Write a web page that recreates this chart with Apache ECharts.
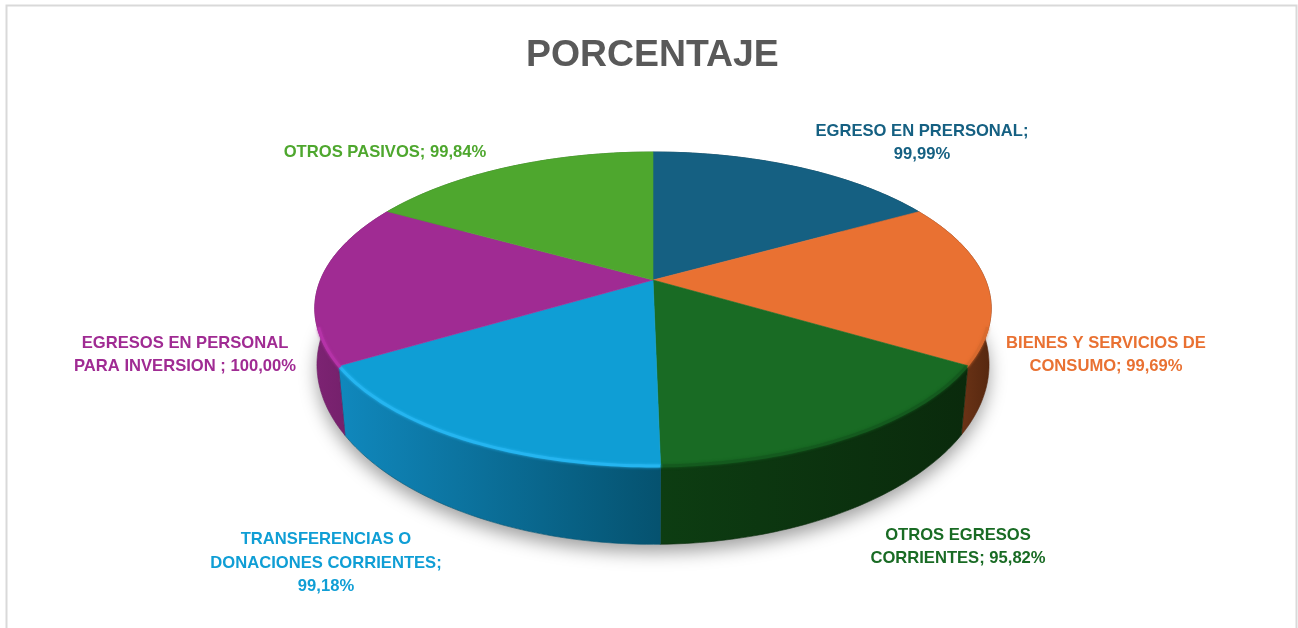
<!DOCTYPE html>
<html>
<head>
<meta charset="utf-8">
<title>PORCENTAJE</title>
<style>
  html, body { margin: 0; padding: 0; background: #fff; }
  #chart { width: 1298px; height: 628px; }
</style>
<script src="https://cdn.jsdelivr.net/npm/echarts@6/dist/echarts.min.js"></script>
</head>
<body>
<div id="chart"></div>
<script>
// datos
const categories = [
  'EGRESO EN PRERSONAL',
  'BIENES Y SERVICIOS DE CONSUMO',
  'OTROS EGRESOS CORRIENTES',
  'TRANSFERENCIAS O DONACIONES CORRIENTES',
  'EGRESOS EN PERSONAL PARA INVERSION ',
  'OTROS PASIVOS'
];
const values = [99.99, 99.69, 95.82, 99.18, 100.0, 99.84];
const labelTexts = [
  'EGRESO EN PRERSONAL;\n99,99%',
  'BIENES Y SERVICIOS DE\nCONSUMO; 99,69%',
  'OTROS EGRESOS\nCORRIENTES; 95,82%',
  'TRANSFERENCIAS O\nDONACIONES CORRIENTES;\n99,18%',
  'EGRESOS EN PERSONAL\nPARA INVERSION ; 100,00%',
  'OTROS PASIVOS; 99,84%'
];

// estilos
const topColors = ['#156082', '#E97132', '#196B24', '#0F9ED5', '#A02B93', '#4EA72E'];
const rimColors = ['#156082', '#D96A2E', '#145A1E', '#25B5F0', '#B533A8', '#4EA72E'];
const wallLeft = ['#0c3a4e', '#8a4420', '#0d3d12', '#1088bd', '#7d2373', '#2e6a1c'];
const wallRight = ['#0c3a4e', '#55270f', '#0a2a0c', '#05526f', '#6a1d62', '#2e6a1c'];
const labelCenters = [[922, 143], [1106, 355], [958, 547], [326, 563], [185, 355], [385, 152]];

// proyeccion de la torta en perspectiva
const cx = 653, cy = 280;
const radiusX = 332.6, radiusY = 151.3, persp = 0.182;
const depth = 60;
const total = values.reduce((a, b) => a + b, 0);

function angleAt(index) {
  let sum = 0;
  for (let i = 0; i < index; i++) sum += values[i];
  return sum / total * Math.PI * 2;
}
function topPoint(a) {
  const u = Math.sin(a), v = -Math.cos(a), d = 1 - persp * v;
  return [cx + radiusX * u / d, cy + radiusY * v / d];
}
function bottomPoint(a) {
  const v = -Math.cos(a), d = 1 - persp * v, p = topPoint(a);
  const shrink = 1 - 0.04 * Math.max(v, 0);
  return [cx + (p[0] - cx) * shrink, p[1] + depth / d + (v > 0 ? v * 6 : 0)];
}
function arc(fn, a0, a1) {
  const pts = [];
  const n = 60;
  for (let i = 0; i <= n; i++) pts.push(fn(a0 + (a1 - a0) * i / n));
  return pts;
}

function renderShadow(params, api) {
  return {
    type: 'polygon',
    shape: { points: arc(bottomPoint, 0, Math.PI * 2) },
    style: { fill: '#fff', shadowBlur: 18, shadowColor: 'rgba(0,0,0,0.38)', shadowOffsetY: 8 }
  };
}

function renderWall(params, api) {
  const i = params.dataIndex;
  const a0 = angleAt(i), a1 = angleAt(i + 1);
  const pts = arc(topPoint, a0, a1).concat(arc(bottomPoint, a0, a1).reverse());
  return {
    type: 'polygon',
    shape: { points: pts },
    style: {
      fill: new echarts.graphic.LinearGradient(0, 0, 1, 0, [
        { offset: 0, color: wallLeft[i] },
        { offset: 1, color: wallRight[i] }
      ]),
      stroke: wallRight[i],
      lineWidth: 0.6
    }
  };
}

function renderTop(params, api) {
  const i = params.dataIndex;
  const a0 = angleAt(i), a1 = angleAt(i + 1);
  const outer = arc(topPoint, a0, a1);
  // el brillo del borde solo se ve en la parte delantera
  const rim = outer
    .filter(p => p[1] > cy + 45)
    .map(p => [cx + (p[0] - cx) * 0.995, p[1] + 1]);
  const children = [
    {
      type: 'polygon',
      shape: { points: [[cx, cy]].concat(outer) },
      style: { fill: topColors[i], stroke: topColors[i], lineWidth: 0.6 }
    },
    {
      type: 'text',
      x: labelCenters[i][0],
      y: labelCenters[i][1],
      style: {
        text: labelTexts[i],
        fill: topColors[i],
        font: 'bold 16.6px "Liberation Sans", Arial, sans-serif',
        lineHeight: 23.6,
        align: 'center',
        verticalAlign: 'middle'
      }
    }
  ];
  if (rim.length > 1) {
    children.splice(1, 0, {
      type: 'polyline',
      shape: { points: rim },
      style: {
        fill: null,
        stroke: rimColors[i],
        lineWidth: 3,
        shadowBlur: 3,
        shadowColor: rimColors[i]
      }
    });
  }
  return { type: 'group', children: children };
}

const chart = echarts.init(document.getElementById('chart'), null, { renderer: 'canvas' });
const seriesData = categories.map((name, i) => ({ name: name, value: values[i] }));

chart.setOption({
  backgroundColor: '#fff',
  animation: false,
  title: {
    text: 'PORCENTAJE',
    left: 521,
    top: 32,
    textStyle: {
      color: '#595959',
      fontFamily: '"Liberation Sans", Arial, sans-serif',
      fontWeight: 'bold',
      fontSize: 37.4
    }
  },
  graphic: [{
    type: 'rect',
    silent: true,
    z: -1,
    shape: { x: 6.5, y: 5.5, width: 1290, height: 640 },
    style: { fill: null, stroke: '#d9d9d9', lineWidth: 2 }
  }],
  series: [
    { type: 'custom', coordinateSystem: 'none', silent: true, z: 1, renderItem: renderShadow, data: [seriesData[0]] },
    { type: 'custom', coordinateSystem: 'none', silent: true, z: 2, renderItem: renderWall, data: seriesData },
    { type: 'custom', coordinateSystem: 'none', silent: true, z: 3, renderItem: renderTop, data: seriesData }
  ]
});
</script>
</body>
</html>
